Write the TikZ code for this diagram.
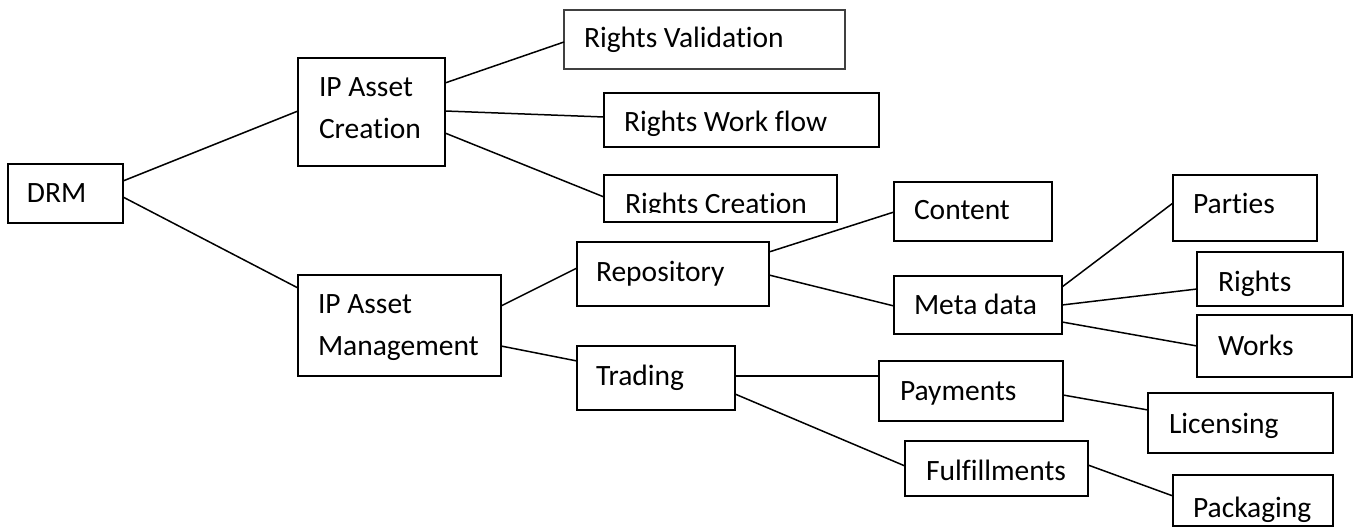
\documentclass[tikz,border=0pt]{standalone}
\usepackage{fontspec}
\setmainfont{Carlito}[Ligatures={NoCommon}]
\usetikzlibrary{calc}

\tikzset{
  box/.style={draw=black, line width=1.8pt, inner sep=0pt, outer sep=0pt, anchor=north west},
  thinbox/.style={box, draw=black!75, line width=1.1pt},
  lbl/.style={anchor=base west, inner sep=0pt, outer sep=0pt, text=black,
              font=\fontsize{29.5}{42}\selectfont},
  link/.style={draw=black, line width=1.5pt}
}
% two-line label, first baseline at the node's base
\newcommand{\twolines}[2]{\begin{tabular}[t]{@{}l@{}}#1\\#2\end{tabular}}

\begin{document}
\begin{tikzpicture}[x=1pt, y=-1pt]
  \fill[white] (0,0) rectangle (1354,529);
  \useasboundingbox (0,0) rectangle (1354,529);

  % ---- boxes (top-left corner, width, height) ----
  \node[box, minimum width=115pt, minimum height=59pt]  (drm)     at (8,164)    {};
  \node[box, minimum width=147pt, minimum height=108pt] (ipac)    at (298,58)   {};
  \node[thinbox, minimum width=281pt, minimum height=59pt] (rv)   at (564,10)   {};
  \node[box, minimum width=275pt, minimum height=54pt]  (rwf)     at (604,93)   {};
  \node[box, minimum width=233pt, minimum height=47pt]  (rc)      at (604,175)  {};
  \node[box, minimum width=203pt, minimum height=101pt] (ipam)    at (298,275)  {};
  \node[box, minimum width=192pt, minimum height=64pt]  (repo)    at (577,242)  {};
  \node[box, minimum width=158pt, minimum height=64pt]  (trading) at (577,346)  {};
  \node[box, minimum width=158pt, minimum height=59pt]  (content) at (894,182)  {};
  \node[box, minimum width=168pt, minimum height=58pt]  (meta)    at (894,276)  {};
  \node[box, minimum width=144pt, minimum height=66pt]  (parties) at (1173,175) {};
  \node[box, minimum width=146pt, minimum height=54pt]  (rights)  at (1197,252) {};
  \node[box, minimum width=155pt, minimum height=62pt]  (works)   at (1197,315) {};
  \node[box, minimum width=184pt, minimum height=60pt]  (pay)     at (879,361)  {};
  \node[box, minimum width=183pt, minimum height=55pt]  (ful)     at (905,441)  {};
  \node[box, minimum width=185pt, minimum height=60pt]  (lic)     at (1148,393) {};
  \node[box, minimum width=160pt, minimum height=51pt]  (pack)    at (1173,475) {};

  % ---- labels ----
  \node[lbl] (drmT)     at ($(drm.north west)+(19,39)$)     {DRM};
  \node[lbl] (ipacT)    at ($(ipac.north west)+(21,39)$)    {\twolines{IP Asset}{Creation}};
  \node[lbl] (rvT)      at ($(rv.north west)+(20,38)$)      {Rights Validation};
  \node[lbl] (rwfT)     at ($(rwf.north west)+(20,39)$)     {Rights Work flow};
  \begin{scope}
    \clip (rc.north west) rectangle ($(rc.north east)+(0,38)$);
    \node[lbl] (rcT)    at ($(rc.north west)+(21,39)$)      {Rights Creation};
  \end{scope}
  \node[lbl] (ipamT)    at ($(ipam.north west)+(20,38)$)    {\twolines{IP Asset}{Management}};
  \node[lbl] (repoT)    at ($(repo.north west)+(19,39)$)    {Repository};
  \node[lbl] (tradingT) at ($(trading.north west)+(19,39)$) {Trading};
  \node[lbl] (contentT) at ($(content.north west)+(20,38)$) {Content};
  \node[lbl] (metaT)    at ($(meta.north west)+(20,38)$)    {Meta data};
  \node[lbl] (partiesT) at ($(parties.north west)+(20,39)$) {Parties};
  \node[lbl] (rightsT)  at ($(rights.north west)+(21,39)$)  {Rights};
  \node[lbl] (worksT)   at ($(works.north west)+(21,40)$)   {Works};
  \node[lbl] (payT)     at ($(pay.north west)+(21,39)$)     {Payments};
  \node[lbl] (fulT)     at ($(ful.north west)+(21,39)$)     {Fulfillments};
  \node[lbl] (licT)     at ($(lic.north west)+(21,40)$)     {Licensing};
  \node[lbl] (packT)    at ($(pack.north west)+(20,42)$)    {Packaging};

  % ---- connectors ----
  \draw[link] ($(drm.north east)+(0,17)$)     -- ($(ipac.north west)+(0,53)$);
  \draw[link] ($(drm.north east)+(0,33)$)     -- ($(ipam.north west)+(0,13)$);
  \draw[link] ($(ipac.north east)+(0,25)$)    -- ($(rv.north west)+(0,32)$);
  \draw[link] ($(ipac.north east)+(0,53)$)    -- ($(rwf.north west)+(0,24)$);
  \draw[link] ($(ipac.north east)+(0,75)$)    -- ($(rc.north west)+(0,22)$);
  \draw[link] ($(ipam.north east)+(0,31)$)    -- ($(repo.north west)+(0,26)$);
  \draw[link] ($(ipam.north east)+(0,71)$)    -- ($(trading.north west)+(0,15)$);
  \draw[link] ($(repo.north east)+(0,10)$)    -- ($(content.north west)+(0,30)$);
  \draw[link] ($(repo.north east)+(0,33)$)    -- ($(meta.north west)+(0,30)$);
  \draw[link] ($(meta.north east)+(0,11)$)    -- ($(parties.north west)+(0,28)$);
  \draw[link] ($(meta.north east)+(0,29)$)    -- ($(rights.north west)+(0,37)$);
  \draw[link] ($(meta.north east)+(0,46)$)    -- ($(works.north west)+(0,31)$);
  \draw[link] ($(trading.north east)+(0,30)$) -- ($(pay.north west)+(0,15)$);
  \draw[link] ($(trading.north east)+(0,48)$) -- ($(ful.north west)+(0,25)$);
  \draw[link] ($(pay.north east)+(0,34)$)     -- ($(lic.north west)+(0,17)$);
  \draw[link] ($(ful.north east)+(0,24)$)     -- ($(pack.north west)+(0,21)$);
\end{tikzpicture}
\end{document}
